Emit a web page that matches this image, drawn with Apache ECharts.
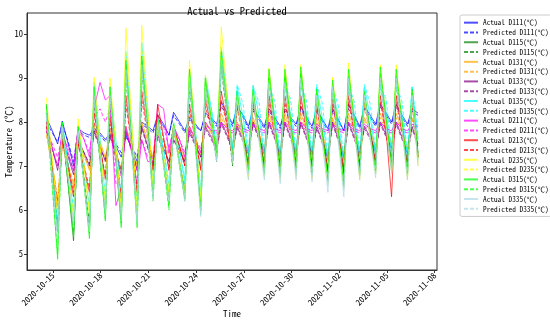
<!DOCTYPE html>
<html><head><meta charset="utf-8">
<script src="https://cdn.jsdelivr.net/npm/echarts@6/dist/echarts.min.js"></script>
<style>html,body{margin:0;padding:0;background:#fff}#c{width:550px;height:320px}</style>
</head><body><div id="c"></div>
<script>
const FONT = "'Noto Sans Mono CJK SC','Noto Sans CJK SC','DejaVu Sans Mono',monospace";
// Days relative to 2020-10-15 and sample hours within each day (trough, peak, decline)
const dayIndex = [-1,0,1,2,3,4,5,6,7,8,9,10,11,12,13,14,15,16,17,18,19,20,21,22];
const hoursOfDay = [7,14,23];
const xTickDays = [0,3,6,9,12,15,18,21,24];
const yTicks = [5,6,7,8,9,10];
const stations = ['D111','D115','D131','D133','D135','D211','D213','D235','D315','D335'];
const stationColors = ['#0000ff','#008000','#ffa500','#800080','#00ffff','#ff00ff','#ff0000','#ffff00','#00ff00','#add8e6'];

// values per day: [trough, peak, decline] (°C)
const act_D111 = [null,8.1,7.8, 7.5,8.02,7.5, 7.0,7.85,7.75, 7.7,7.85,7.75, 7.6,7.75,7.45, 7.2,7.7,7.4, 7.1,8.0,7.9, 7.8,8.16,7.95, 7.7,8.22,8.0, 7.8,8.1,7.95, 7.8,8.2,8.1, 7.95,8.45,8.2, 7.95,8.35,8.15, 7.9,8.3,8.1, 7.9,8.3,8.1, 7.9,8.3,8.1, 7.95,8.35,8.1, 7.9,8.3,8.05, 7.85,8.3,8.05, 7.8,8.4,8.15, 7.9,8.35,8.15, 7.95,8.4,8.2, 8.0,8.4,8.15, 7.95,8.3,8.2];
const pred_D111 = [null,8.0,7.75, 7.55,7.95,7.55, 7.1,7.8,7.7, 7.65,7.8,7.7, 7.55,7.7,7.5, 7.3,7.65,7.45, 7.2,7.95,7.85, 7.75,8.1,7.9, 7.7,8.15,7.95, 7.75,8.05,7.9, 7.8,8.15,8.05, 7.9,8.35,8.15, 7.9,8.3,8.1, 7.85,8.25,8.05, 7.85,8.25,8.05, 7.85,8.25,8.05, 7.9,8.3,8.05, 7.85,8.25,8.0, 7.8,8.25,8.0, 7.8,8.3,8.1, 7.85,8.3,8.1, 7.9,8.35,8.15, 7.95,8.35,8.1, 7.9,8.25,8.15];
const act_D115 = [null,8.4,6.9, 5.5,7.9,6.55, 5.3,7.8,6.65, 5.6,8.6,7.2, 5.9,8.6,7.15, 5.8,9.3,7.55, 5.9,9.4,7.85, 6.4,8.0,7.1, 6.3,7.9,7.1, 6.4,9.0,7.5, 6.1,8.9,8.0, 7.2,9.4,8.2, 7.1,8.6,7.75, 7.0,8.6,7.75, 7.0,9.0,7.9, 6.95,9.0,7.95, 7.0,9.1,8.0, 7.0,8.6,7.7, 6.9,8.8,7.75, 6.8,9.0,7.95, 7.0,8.6,7.8, 7.05,9.0,8.0, 7.1,9.0,7.95, 7.0,8.6,7.3];
const pred_D115 = [null,8.2,6.8, 5.7,7.8,6.6, 5.5,7.7,6.7, 5.7,8.4,7.15, 6.0,8.4,7.1, 5.9,9.0,7.5, 6.0,9.1,7.8, 6.5,7.9,7.1, 6.4,7.85,7.05, 6.5,8.8,7.45, 6.2,8.7,7.9, 7.1,9.2,8.1, 7.0,8.5,7.7, 6.95,8.5,7.7, 6.95,8.85,7.85, 6.9,8.9,7.9, 6.95,8.95,7.95, 6.95,8.5,7.65, 6.85,8.7,7.7, 6.75,8.85,7.9, 6.95,8.5,7.75, 7.0,8.9,7.95, 7.05,8.85,7.9, 6.95,8.5,7.25];
const act_D131 = [null,7.8,6.9, 6.0,7.5,7.0, 6.5,7.6,7.25, 6.9,7.9,7.55, 7.2,7.8,7.35, 6.9,7.9,7.45, 7.0,8.0,7.6, 7.2,7.8,7.55, 7.3,7.7,7.45, 7.2,7.9,7.6, 7.3,8.0,7.75, 7.5,8.2,7.85, 7.5,8.0,7.7, 7.4,8.1,7.75, 7.4,8.2,7.8, 7.35,8.2,7.8, 7.4,8.2,7.8, 7.4,8.1,7.7, 7.3,8.1,7.7, 7.3,8.2,7.8, 7.4,8.1,7.8, 7.45,8.2,7.85, 7.5,8.2,7.8, 7.4,8.1,7.6];
const pred_D131 = [null,7.7,7.0, 6.2,7.45,7.05, 6.6,7.55,7.2, 6.95,7.8,7.5, 7.15,7.75,7.3, 6.95,7.85,7.4, 7.05,7.95,7.55, 7.15,7.75,7.5, 7.25,7.7,7.4, 7.15,7.85,7.55, 7.25,7.95,7.7, 7.45,8.1,7.8, 7.45,7.95,7.65, 7.35,8.05,7.7, 7.35,8.1,7.75, 7.3,8.1,7.75, 7.35,8.1,7.75, 7.35,8.0,7.65, 7.25,8.05,7.65, 7.25,8.1,7.75, 7.35,8.05,7.75, 7.4,8.1,7.8, 7.45,8.1,7.75, 7.35,8.05,7.55];
const act_D133 = [null,7.9,7.4, 6.9,7.6,7.2, 6.8,7.6,7.3, 7.0,7.8,7.45, 7.1,7.7,7.25, 6.8,7.8,7.35, 6.9,7.9,7.45, 7.0,7.7,7.4, 7.1,7.6,7.35, 7.1,7.8,7.5, 7.2,7.9,7.65, 7.4,8.0,7.7, 7.4,7.9,7.6, 7.3,8.0,7.65, 7.3,8.0,7.65, 7.25,8.0,7.65, 7.3,8.0,7.65, 7.3,7.9,7.55, 7.2,8.0,7.6, 7.2,8.0,7.65, 7.3,7.9,7.65, 7.35,8.0,7.7, 7.4,8.0,7.65, 7.3,7.9,7.5];
const pred_D133 = [null,7.8,7.35, 7.0,7.55,7.25, 6.9,7.55,7.3, 7.05,7.75,7.4, 7.15,7.65,7.3, 6.9,7.75,7.35, 6.95,7.85,7.4, 7.05,7.65,7.35, 7.1,7.6,7.3, 7.1,7.75,7.45, 7.2,7.85,7.6, 7.35,7.95,7.65, 7.35,7.85,7.55, 7.25,7.95,7.6, 7.25,7.95,7.6, 7.2,7.95,7.6, 7.25,7.95,7.6, 7.25,7.85,7.5, 7.15,7.95,7.55, 7.15,7.95,7.6, 7.25,7.85,7.6, 7.3,7.95,7.65, 7.35,7.95,7.6, 7.25,7.85,7.45];
const act_D135 = [null,8.3,6.95, 5.6,8.0,7.0, 5.9,7.9,7.0, 6.0,8.9,7.6, 6.2,8.8,7.55, 6.2,9.6,7.9, 6.1,9.8,8.25, 6.6,8.1,7.35, 6.5,8.0,7.35, 6.6,9.2,7.8, 6.3,9.05,8.3, 7.4,9.7,8.6, 7.35,8.8,8.1, 7.2,8.84,8.15, 7.2,8.9,8.15, 7.15,8.9,8.15, 7.2,8.9,8.15, 7.2,8.8,8.05, 7.1,8.85,8.0, 7.0,8.9,8.15, 7.2,8.8,8.1, 7.25,8.9,8.2, 7.3,8.9,8.15, 7.2,8.8,7.6];
const pred_D135 = [null,8.2,7.0, 5.8,7.95,7.05, 6.0,7.85,7.05, 6.1,8.7,7.6, 6.3,8.6,7.55, 6.3,9.3,7.9, 6.2,9.5,8.2, 6.7,8.05,7.4, 6.6,8.0,7.4, 6.7,9.0,7.85, 6.4,8.9,8.3, 7.4,9.5,8.6, 7.4,8.85,8.4, 7.3,8.8,8.45, 7.25,8.85,8.45, 7.2,8.85,8.5, 7.25,8.9,8.45, 7.25,8.85,8.4, 7.15,8.8,8.35, 7.1,8.85,8.45, 7.25,8.85,8.4, 7.3,8.85,8.5, 7.35,8.85,8.45, 7.25,8.8,7.7];
const act_D211 = [null,8.0,7.4, 7.0,7.8,7.3, 6.9,7.9,7.6, 7.2,8.3,8.9, 8.5,8.6,6.1, 6.5,7.9,7.3, 6.6,7.6,7.1, 7.1,8.4,8.3, 7.3,7.9,7.6, 7.2,7.9,7.6, 7.3,8.0,7.8, 7.8,8.0,7.85, 7.8,7.95,7.85, 7.8,7.95,7.85, 7.8,8.0,7.85, 7.8,8.0,7.85, 7.8,8.0,7.85, 7.8,7.95,7.85, 7.8,7.95,7.85, 7.8,8.0,7.85, 7.8,7.95,7.85, 7.8,8.0,7.85, 7.8,8.0,7.85, 7.8,7.95,7.9];
const pred_D211 = [null,7.8,7.5, 7.2,7.7,7.4, 7.1,7.8,7.6, 7.3,8.1,8.3, 8.0,8.3,6.6, 6.8,7.8,7.3, 6.9,7.6,7.2, 7.2,8.1,7.9, 7.4,7.85,7.6, 7.3,7.85,7.6, 7.4,7.95,7.8, 7.75,7.95,7.8, 7.75,7.9,7.8, 7.75,7.9,7.8, 7.75,7.95,7.8, 7.75,7.95,7.8, 7.75,7.95,7.8, 7.75,7.9,7.8, 7.75,7.9,7.8, 7.75,7.95,7.8, 7.75,7.9,7.8, 7.75,7.95,7.8, 7.75,7.95,7.8, 7.75,7.9,7.85];
const act_D213 = [null,8.0,7.0, 6.0,7.6,6.95, 6.3,7.5,6.95, 6.4,8.2,7.45, 6.7,8.1,7.15, 6.2,8.6,7.5, 6.4,8.7,7.8, 6.9,8.4,7.65, 6.9,7.9,7.45, 7.0,8.4,7.65, 6.9,8.5,7.9, 7.3,8.7,7.95, 7.2,8.4,7.7, 7.0,8.5,7.75, 7.0,8.6,7.75, 6.95,8.6,7.8, 7.0,8.6,7.8, 7.0,8.4,7.65, 6.9,8.5,7.7, 6.9,8.6,7.8, 7.0,8.5,7.75, 7.05,8.6,7.75, 6.3,8.6,7.8, 7.0,8.5,7.2];
const pred_D213 = [null,7.9,7.05, 6.2,7.55,7.0, 6.4,7.5,7.0, 6.5,8.0,7.4, 6.8,7.95,7.15, 6.35,8.4,7.45, 6.5,8.5,7.7, 6.95,8.2,7.6, 6.95,7.85,7.45, 7.0,8.25,7.6, 6.95,8.35,7.85, 7.25,8.5,7.9, 7.15,8.3,7.65, 7.0,8.4,7.7, 7.0,8.45,7.7, 6.95,8.45,7.75, 7.0,8.45,7.75, 7.0,8.3,7.6, 6.9,8.4,7.65, 6.9,8.45,7.75, 7.0,8.4,7.7, 7.05,8.45,7.7, 7.0,8.45,7.75, 7.0,8.4,7.2];
const act_D235 = [null,8.55,7.15, 5.9,7.9,6.8, 5.8,8.07,6.95, 5.9,9.02,7.5, 6.1,9.0,7.45, 6.0,10.14,7.95, 5.9,10.2,8.3, 6.5,8.0,7.15, 6.4,8.0,7.1, 6.3,9.4,7.75, 6.2,9.07,8.05, 7.2,10.16,8.55, 7.1,8.6,7.6, 6.7,8.7,7.65, 6.75,9.23,7.9, 6.7,9.3,7.95, 6.75,9.3,7.95, 6.7,8.7,7.6, 6.6,9.02,7.7, 6.5,9.34,7.95, 6.7,8.6,7.65, 6.8,9.3,8.0, 6.85,9.3,7.95, 6.7,8.7,7.0];
const pred_D235 = [null,8.3,7.1, 6.0,7.85,6.85, 5.9,7.95,7.0, 6.0,8.7,7.45, 6.2,8.7,7.4, 6.1,9.6,7.9, 6.0,9.7,8.2, 6.6,7.95,7.2, 6.5,7.95,7.1, 6.4,9.1,7.7, 6.3,8.8,8.0, 7.2,9.7,8.45, 7.1,8.5,7.6, 6.8,8.6,7.65, 6.8,9.0,7.85, 6.75,9.1,7.9, 6.8,9.1,7.9, 6.75,8.6,7.6, 6.65,8.85,7.65, 6.6,9.1,7.9, 6.75,8.5,7.65, 6.85,9.1,7.95, 6.9,9.1,7.9, 6.75,8.6,7.05];
const act_D315 = [null,8.4,6.6, 4.88,8.0,6.65, 5.4,7.9,6.6, 5.35,8.8,7.2, 5.75,8.8,7.15, 5.6,9.4,7.45, 5.6,9.5,7.85, 6.3,8.1,7.05, 6.1,7.95,7.05, 6.25,9.2,7.55, 6.0,9.0,8.1, 7.3,9.6,8.35, 7.2,8.7,7.75, 6.9,8.75,7.75, 6.85,9.2,7.95, 6.8,9.2,8.0, 6.9,9.25,8.0, 6.85,8.75,7.7, 6.7,8.95,7.7, 6.6,9.2,8.0, 6.85,8.7,7.75, 6.9,9.25,8.05, 6.95,9.2,8.0, 6.85,8.75,7.2];
const pred_D315 = [null,8.2,6.5, 5.0,7.9,6.6, 5.5,7.8,6.55, 5.45,8.6,7.1, 5.8,8.6,7.1, 5.7,9.1,7.4, 5.7,9.2,7.75, 6.2,8.0,7.0, 6.0,7.9,7.0, 6.2,8.9,7.5, 5.9,8.8,8.0, 7.2,9.3,8.3, 7.1,8.6,7.7, 6.85,8.65,7.7, 6.8,9.0,7.9, 6.75,9.05,7.95, 6.85,9.1,7.95, 6.8,8.65,7.65, 6.65,8.8,7.65, 6.55,9.05,7.95, 6.8,8.6,7.7, 6.85,9.1,8.0, 6.9,9.05,7.95, 6.8,8.65,7.15];
const act_D335 = [null,8.2,6.7, 5.3,7.9,6.7, 5.6,7.8,6.6, 5.5,8.6,7.2, 5.9,8.6,7.15, 5.8,9.2,7.4, 5.7,9.3,7.7, 6.25,8.0,7.05, 6.2,7.9,7.0, 6.2,9.0,7.35, 5.85,8.8,7.9, 7.1,9.4,8.2, 7.1,8.5,7.5, 6.68,8.6,7.55, 6.68,8.9,7.7, 6.6,8.9,7.7, 6.68,9.0,7.75, 6.64,8.6,7.45, 6.4,8.8,7.5, 6.3,9.0,7.8, 6.68,8.6,7.6, 6.73,9.0,7.85, 6.82,9.0,7.8, 6.68,8.6,7.0];
const pred_D335 = [null,8.1,6.75, 5.45,7.85,6.75, 5.7,7.75,6.65, 5.6,8.5,7.2, 6.0,8.5,7.15, 5.9,9.0,7.4, 5.8,9.1,7.7, 6.35,7.95,7.1, 6.3,7.9,7.05, 6.3,8.8,7.4, 5.95,8.7,7.9, 7.15,9.2,8.2, 7.15,8.6,7.6, 6.8,8.6,7.6, 6.8,8.85,7.75, 6.75,8.85,7.75, 6.8,8.9,7.8, 6.75,8.6,7.5, 6.55,8.75,7.55, 6.45,8.9,7.8, 6.8,8.6,7.65, 6.85,8.9,7.85, 6.9,8.9,7.8, 6.8,8.6,7.05];

const actual = {D111:act_D111,D115:act_D115,D131:act_D131,D133:act_D133,D135:act_D135,D211:act_D211,D213:act_D213,D235:act_D235,D315:act_D315,D335:act_D335};
const predicted = {D111:pred_D111,D115:pred_D115,D131:pred_D131,D133:pred_D133,D135:pred_D135,D211:pred_D211,D213:pred_D213,D235:pred_D235,D315:pred_D315,D335:pred_D335};

function toPairs(vals){
  const out=[];
  for(let k=0;k<vals.length;k++){
    if(vals[k]===null) continue;
    const d = dayIndex[Math.floor(k/3)], h = hoursOfDay[k%3];
    out.push([d + h/24, vals[k]]);
  }
  return out;
}
function dateLabel(v){
  const t = new Date(Date.UTC(2020,9,15) + Math.round(v)*86400000);
  return t.toISOString().slice(0,10);
}

const series=[];
stations.forEach((s,i)=>{
  [['Actual',actual[s],'solid'],['Predicted',predicted[s],[4,2]]].forEach(([kind,vals,dash])=>{
    series.push({
      name: kind+' '+s+'(℃)', type:'line', data: toPairs(vals),
      symbol:'none', showSymbol:false, animation:false,
      lineStyle:{width:1, color:stationColors[i], opacity:0.7, type:dash},
      itemStyle:{color:stationColors[i], opacity:0}
    });
  });
});

const chart = echarts.init(document.getElementById('c'), null, {renderer:'canvas'});
chart.setOption({
  backgroundColor:'#fff',
  animation:false,
  title:{text:'Actual vs Predicted', left:232, top:1, textAlign:'center',
    textStyle:{fontFamily:FONT, fontSize:10.5, fontWeight:'normal', color:'#000'}},
  grid:{left:27, right:113, top:13, bottom:50, containLabel:false, outerBoundsMode:'none',
    show:true, borderColor:'#333', borderWidth:1, backgroundColor:'#fff'},
  legend:{orient:'vertical', left:460, top:15, itemWidth:14, itemHeight:7, itemGap:2.5,
    padding:[4,3,4,3], borderColor:'#ccc', borderWidth:1, borderRadius:2, backgroundColor:'#fff',
    itemStyle:{opacity:0},
    textStyle:{fontFamily:FONT, fontSize:7.3, color:'#000'}},
  xAxis:{type:'value', min:-1.635, max:24.15,
    name:'Time', nameLocation:'middle', nameGap:39, nameMoveOverlap:false,
    nameTextStyle:{fontFamily:FONT, fontSize:9, color:'#000', verticalAlign:'top'},
    axisLine:{onZero:false, lineStyle:{color:'#333'}},
    axisTick:{customValues:xTickDays, length:3, lineStyle:{color:'#333'}},
    axisLabel:{customValues:xTickDays, rotate:45, margin:4, fontFamily:FONT, fontSize:8.5, color:'#000', formatter:dateLabel},
    splitLine:{show:false}},
  yAxis:{type:'value', min:4.636, max:10.477,
    name:'Temperature (℃)', nameLocation:'middle', nameGap:14, nameMoveOverlap:false,
    nameTextStyle:{fontFamily:FONT, fontSize:9, color:'#000'},
    axisLine:{show:true, onZero:false, lineStyle:{color:'#333'}},
    axisTick:{show:true, customValues:yTicks, length:3, lineStyle:{color:'#333'}},
    axisLabel:{customValues:yTicks, margin:4, fontFamily:FONT, fontSize:8.5, color:'#000'},
    splitLine:{show:false}},
  series
});
</script></body></html>
